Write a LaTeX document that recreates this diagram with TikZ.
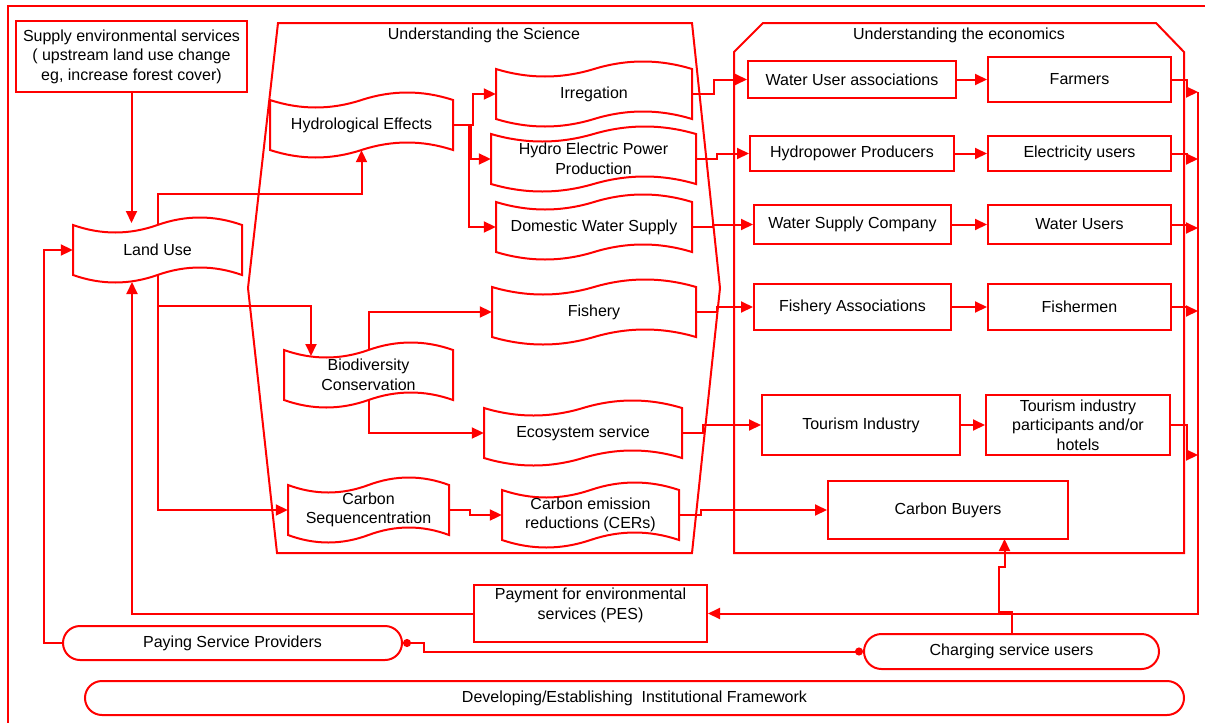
\documentclass[tikz,border=0pt]{standalone}
\usepackage{fontspec}
\setmainfont{Liberation Sans}
\usetikzlibrary{arrows.meta}
\definecolor{pesred}{RGB}{255,0,0}

\tikzset{
  box/.style={draw=pesred, line width=2pt, rectangle, inner sep=0pt, align=center},
  pill/.style={draw=pesred, line width=2pt, rectangle, rounded corners=17pt, inner sep=0pt, align=center},
  tapeline/.style={draw=pesred, line width=2pt},
  tapetext/.style={inner sep=0pt, align=center},
  arr/.style={draw=pesred, line width=2pt, -{Triangle[length=12pt,width=11pt]}},
  link/.style={draw=pesred, line width=2pt, {Circle[length=8pt]}-{Circle[length=8pt]}},
  container/.style={draw=pesred, line width=2pt},
  title/.style={inner sep=0pt},
}

% amplitude control for the wavy tape outline (4/3 of the wave height)
\newcommand\tapeamp{10}
% \tapenode{name}{cx}{cy}{width}{height}{label}
\newcommand\tapenode[6]{%
  \pgfmathsetmacro\tpL{#2-#4/2}%
  \pgfmathsetmacro\tpR{#2+#4/2}%
  \pgfmathsetmacro\tpT{#3-#5/2}%
  \pgfmathsetmacro\tpB{#3+#5/2}%
  \pgfmathsetmacro\tpA{#4/6}%
  \pgfmathsetmacro\tpC{#4/3}%
  \draw[tapeline] (\tpL,\tpT)
     .. controls (\tpL+\tpA,\tpT+\tapeamp) and (\tpL+\tpC,\tpT+\tapeamp) .. (#2,\tpT)
     .. controls (#2+\tpA,\tpT-\tapeamp) and (#2+\tpC,\tpT-\tapeamp) .. (\tpR,\tpT)
     -- (\tpR,\tpB)
     .. controls (#2+\tpC,\tpB-\tapeamp) and (#2+\tpA,\tpB-\tapeamp) .. (#2,\tpB)
     .. controls (\tpL+\tpC,\tpB+\tapeamp) and (\tpL+\tpA,\tpB+\tapeamp) .. (\tpL,\tpB)
     -- cycle;
  \node[tapetext, minimum width=#4pt, minimum height=#5pt] (#1) at (#2,#3) {#6};
}

\begin{document}
\begin{tikzpicture}[x=1pt, y=-1pt, font=\fontsize{16pt}{19.5pt}\selectfont]
\useasboundingbox (0,0) rectangle (1205,723);
\begin{scope}
  \clip (0,0) rectangle (1205,723);
  \fill[white] (0,0) rectangle (1205,723);
  \draw[container] (8,740) -- (8,6) -- (1220,6);
\end{scope}

% containers
\draw[container] (278,23) -- (692,23) -- (720,288) -- (692,553) -- (277,553) -- (248,288) -- cycle;
\draw[container] (734,52) -- (763,23) -- (1156,23) -- (1184,52) -- (1184,553) -- (734,553) -- cycle;
\node[title] (scititle) at (484,35) {Understanding the Science};
\node[title] (ecotitle) at (959,35) {Understanding the economics};

% left column
\node[box, minimum width=231pt, minimum height=71pt] (Supply) at (131.5,56.5)
  {Supply environmental services\\( upstream land use change\\eg, increase forest cover)};
\tapenode{LandUse}{157.5}{250}{169}{50}{Land Use}

% science
\tapenode{Hydro}{361.5}{125}{183}{50}{Hydrological Effects}
\tapenode{Irr}{594}{94}{196}{50}{Irregation}
\tapenode{HEP}{593.5}{159}{205}{50}{Hydro Electric Power\\Production}
\tapenode{DWS}{594}{227}{196}{50}{Domestic Water Supply}
\tapenode{Bio}{368.5}{375}{169}{50}{Biodiversity\\Conservation}
\tapenode{Fish}{594}{312}{204}{50}{Fishery}
\tapenode{Eco}{583}{433}{198}{50}{Ecosystem service}
\tapenode{CSeq}{368.5}{510}{161}{50}{Carbon\\Sequencentration}
\tapenode{CER}{590.5}{515}{177}{50}{Carbon emission\\reductions (CERs)}

% economics
\node[box, minimum width=208pt, minimum height=37pt] (WUA) at (852,79.5) {Water User associations};
\node[box, minimum width=183pt, minimum height=45pt] (Farmers) at (1079.5,79.5) {Farmers};
\node[box, minimum width=204pt, minimum height=35pt] (HP) at (852,153.5) {Hydropower Producers};
\node[box, minimum width=183pt, minimum height=35pt] (EU) at (1079.5,153.5) {Electricity users};
\node[box, minimum width=197pt, minimum height=39pt] (WSC) at (852.5,224.5) {Water Supply Company};
\node[box, minimum width=183pt, minimum height=39pt] (WU) at (1079.5,224.5) {Water Users};
\node[box, minimum width=197pt, minimum height=46pt] (FA) at (852.5,307) {Fishery Associations};
\node[box, minimum width=183pt, minimum height=46pt] (Fishermen) at (1079.5,307) {Fishermen};
\node[box, minimum width=198pt, minimum height=60pt] (TI) at (861,425) {Tourism Industry};
\node[box, minimum width=184pt, minimum height=60pt] (TIP) at (1078,425) {Tourism industry\\participants and/or\\hotels};
\node[box, minimum width=240pt, minimum height=58pt] (CB) at (948,510) {Carbon Buyers};

% payment and institutions
\node[box, minimum width=233pt, minimum height=57pt] (PES) at (590.5,613.5) {Payment for environmental\\services (PES)\\\mbox{}};
\node[pill, minimum width=339pt, minimum height=34pt] (PSP) at (232.5,643) {Paying Service Providers};
\node[pill, rounded corners=17.5pt, minimum width=295pt, minimum height=35pt] (CSU) at (1011.5,651.5) {Charging service users};
\node[pill, minimum width=1099pt, minimum height=34pt] (Dev) at (634.5,698) {Developing/Establishing\ \ Institutional Framework};

% free ends of connectors
\coordinate (luTop) at (131.5,223);
\coordinate (luBot) at (132,282);
\coordinate (bioIn) at (311,356);
\coordinate (cbIn) at (1004.5,539);
\coordinate (bus1) at (1198,92);
\coordinate (bus2) at (1198,159);
\coordinate (bus3) at (1198,228);
\coordinate (bus4) at (1198,311);
\coordinate (bus5) at (1198,455);
\coordinate (busEnd) at (1198,613.5);

% land use links
\draw[arr] (Supply.south) -- (luTop);
\draw[arr] (LandUse.north) -- ++(0,-31) -| (Hydro.south);
\draw[arr] (LandUse.south) -- ++(0,31) -| (bioIn);
\draw[arr] (LandUse.south) |- (CSeq.west);

% hydrology branches
\draw[arr] (Hydro.east) -- ++(20,0) |- (Irr.west);
\draw[arr] (Hydro.east) -- ++(18,0) |- (HEP.west);
\draw[arr] (Hydro.east) -- ++(16,0) |- (DWS.west);

% biodiversity and carbon
\draw[arr] (Bio.north) |- (Fish.west);
\draw[arr] (Bio.south) |- (Eco.west);
\draw[arr] (CSeq.east) -- ++(21,0) |- (CER.west);

% science to economics
\draw[arr] (Irr.east) -- ++(22,0) |- (WUA.west);
\draw[arr] (HEP.east) -- ++(21,0) |- (HP.west);
\draw[arr] (DWS.east) -- ++(21,0) |- (WSC.west);
\draw[arr] (Fish.east) -- ++(21,0) |- (FA.west);
\draw[arr] (Eco.east) -- ++(21,0) |- (TI.west);
\draw[arr] (CER.east) -- ++(22,0) |- (CB.west);

% economics rows
\draw[arr] (WUA.east) -- (Farmers.west);
\draw[arr] (HP.east) -- (EU.west);
\draw[arr] (WSC.east) -- (WU.west);
\draw[arr] (FA.east) -- (Fishermen.west);
\draw[arr] (TI.east) -- (TIP.west);

% collection bus on the right
\draw[arr] (Farmers.east) -- ++(15,0) |- (bus1);
\draw[arr] (EU.east) -- ++(15,0) |- (bus2);
\draw[arr] (WU.east) -- ++(15,0) |- (bus3);
\draw[arr] (Fishermen.east) -- ++(15,0) |- (bus4);
\draw[arr] (TIP.east) -- ++(16,0) |- (bus5);
\draw[arr] (bus1) -- (busEnd) -- (PES.east);

% payments
\draw[arr] (PES.west) -| (luBot);
\draw[arr] (PSP.west) -- ++(-18,0) |- (LandUse.west);
\draw[arr] (CSU.north) -- ++(0,-21) -- ++(-13,0) -- ++(0,-45) -- ++(6,0) -- (cbIn);
\draw[link] (PSP.east) -- ++(21,0) |- (CSU.west);
\end{tikzpicture}
\end{document}
